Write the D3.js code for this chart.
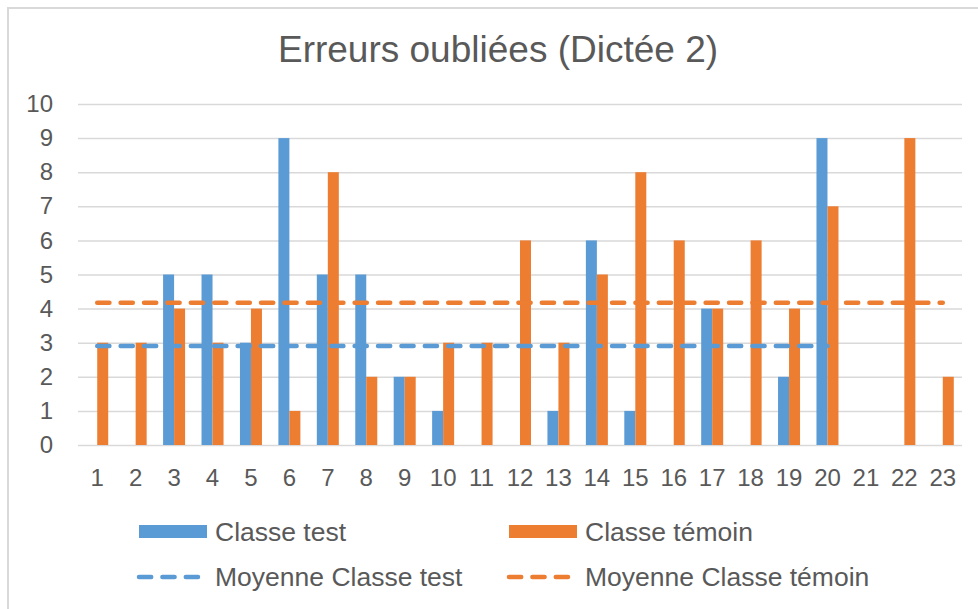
<!DOCTYPE html>
<html>
<head>
<meta charset="utf-8">
<script src="https://cdn.jsdelivr.net/npm/d3@7"></script>
<style>
  body { margin: 0; background: #fff; }
  text { font-family: "Liberation Sans", Arial, sans-serif; fill: #595959; }
</style>
</head>
<body>
<script>
var categories = ["1","2","3","4","5","6","7","8","9","10","11","12","13","14","15","16","17","18","19","20","21","22","23"];
var classeTest = [0,0,5,5,3,9,5,5,2,1,0,0,1,6,1,0,4,0,2,9,null,null,null];
var classeTemoin = [3,3,4,3,4,1,8,2,2,3,3,6,3,5,8,6,4,6,4,7,0,9,2];
var moyenneTest = [2.9,2.9,2.9,2.9,2.9,2.9,2.9,2.9,2.9,2.9,2.9,2.9,2.9,2.9,2.9,2.9,2.9,2.9,2.9,2.9,null,null,null];
var moyenneTemoin = [4.17,4.17,4.17,4.17,4.17,4.17,4.17,4.17,4.17,4.17,4.17,4.17,4.17,4.17,4.17,4.17,4.17,4.17,4.17,4.17,4.17,4.17,4.17];
var yTicks = [0,1,2,3,4,5,6,7,8,9,10];

(function() {
  var width = 978, height = 609,
      plotLeft = 78, plotRight = 962, plotTop = 104, plotBottom = 445,
      blue = "#5B9BD5", orange = "#ED7D31", grid = "#D9D9D9",
      barW = 11;

  var svg = d3.select("body").append("svg")
      .attr("width", width)
      .attr("height", height);

  // chart frame
  svg.append("rect")
      .attr("x", 8).attr("y", 8)
      .attr("width", 1000).attr("height", 700)
      .attr("fill", "none")
      .attr("stroke", grid)
      .attr("stroke-width", 2);

  svg.append("text")
      .attr("x", 498).attr("y", 62)
      .attr("text-anchor", "middle")
      .attr("font-size", "37px")
      .text("Erreurs oubliées (Dictée 2)");

  var x = d3.scaleBand().domain(categories).range([plotLeft, plotRight]).padding(0);
  var y = d3.scaleLinear().domain([0, 10]).range([plotBottom, plotTop]);
  var sub = d3.scaleBand().domain(["test", "temoin"]).range([-barW, barW]);

  var yAxis = svg.append("g")
      .attr("transform", "translate(" + plotLeft + ",0)")
      .call(d3.axisLeft(y).tickValues(yTicks).tickSize(-(plotRight - plotLeft)).tickPadding(25));
  yAxis.select(".domain").remove();
  yAxis.selectAll("line").attr("stroke", grid).attr("stroke-width", 1.5);
  yAxis.selectAll("text").attr("font-size", "24px").attr("fill", "#595959");

  var xAxis = svg.append("g")
      .attr("transform", "translate(0," + plotBottom + ")")
      .call(d3.axisBottom(x).tickSize(0).tickPadding(24));
  xAxis.select(".domain").remove();
  xAxis.selectAll("text").attr("font-size", "24px").attr("fill", "#595959");

  function center(c) { return x(c) + x.bandwidth() / 2; }

  svg.append("g").selectAll("rect")
      .data(categories.filter(function(c, i) { return classeTest[i] != null; }))
      .enter().append("rect")
      .attr("x", function(c) { return center(c) + sub("test"); })
      .attr("y", function(c) { return y(classeTest[categories.indexOf(c)]); })
      .attr("width", sub.bandwidth())
      .attr("height", function(c) { return plotBottom - y(classeTest[categories.indexOf(c)]); })
      .attr("fill", blue);

  svg.append("g").selectAll("rect")
      .data(categories)
      .enter().append("rect")
      .attr("x", function(c) { return center(c) + sub("temoin"); })
      .attr("y", function(c, i) { return y(classeTemoin[i]); })
      .attr("width", sub.bandwidth())
      .attr("height", function(c, i) { return plotBottom - y(classeTemoin[i]); })
      .attr("fill", orange);

  function meanLine(values, color) {
    var line = d3.line()
        .defined(function(d) { return d != null; })
        .x(function(d, i) { return center(categories[i]); })
        .y(function(d) { return y(d); });
    svg.append("path")
        .datum(values)
        .attr("d", line)
        .attr("fill", "none")
        .attr("stroke", color)
        .attr("stroke-width", 4.5)
        .attr("stroke-linecap", "round")
        .attr("stroke-dasharray", "12.2,11.2");
  }
  meanLine(moyenneTest, blue);
  meanLine(moyenneTemoin, orange);

  // legend
  var legend = [
    {label: "Classe test", color: blue, type: "bar", x: 139, y: 532},
    {label: "Classe témoin", color: orange, type: "bar", x: 509, y: 532},
    {label: "Moyenne Classe test", color: blue, type: "line", x: 139, y: 577},
    {label: "Moyenne Classe témoin", color: orange, type: "line", x: 509, y: 577}
  ];

  legend.forEach(function(d) {
    if (d.type == "bar") {
      svg.append("rect")
          .attr("x", d.x).attr("y", d.y - 7)
          .attr("width", 68).attr("height", 13)
          .attr("fill", d.color);
    } else {
      svg.append("line")
          .attr("x1", d.x).attr("x2", d.x + 60)
          .attr("y1", d.y).attr("y2", d.y)
          .attr("stroke", d.color)
          .attr("stroke-width", 4.5)
          .attr("stroke-linecap", "round")
          .attr("stroke-dasharray", "12.2,11.2");
    }
    svg.append("text")
        .attr("x", d.x + 76).attr("y", d.y + 9)
        .attr("font-size", "26.5px")
        .text(d.label);
  });
})();
</script>
</body>
</html>
